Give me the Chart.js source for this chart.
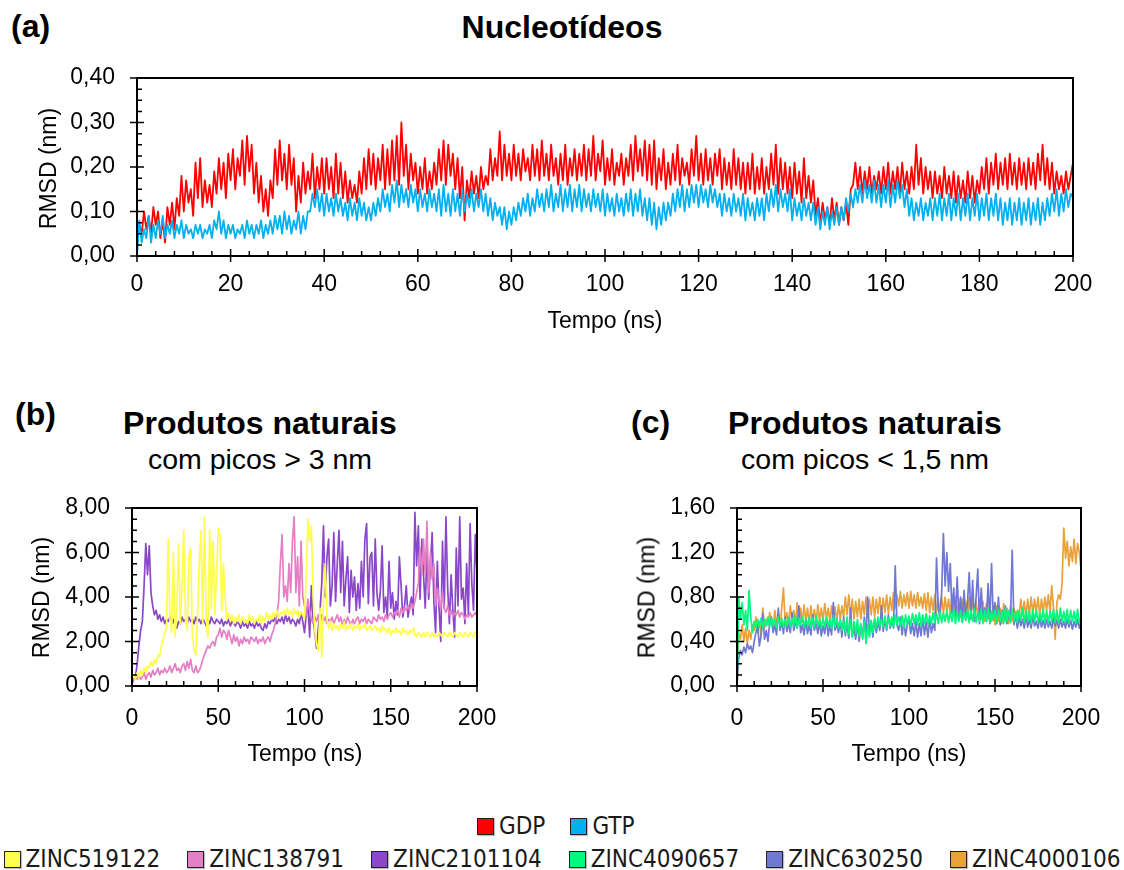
<!DOCTYPE html>
<html><head><meta charset="utf-8">
<script src="https://cdn.jsdelivr.net/npm/chart.js@4.4.1/dist/chart.umd.min.js"></script>
<style>
html,body{margin:0;padding:0;background:#fff;}
body{width:1124px;height:870px;position:relative;overflow:hidden;font-family:'Liberation Sans',Arial,sans-serif;color:#000;}
canvas{position:absolute;}
.t{position:absolute;white-space:nowrap;line-height:1;}
.lg{position:absolute;display:flex;align-items:center;font-family:'DejaVu Sans Condensed','DejaVu Sans',sans-serif;font-stretch:condensed;font-size:24px;color:#1a1a1a;line-height:1;}
.lg .it{display:flex;align-items:center;}
.lg .sw{width:15px;height:15px;border:1.5px solid #222;margin-right:5px;box-shadow:1px 1px 1px rgba(0,0,0,0.25);}
</style></head><body>
<canvas id="ca" width="1124" height="250" style="left:0;top:60px"></canvas>
<canvas id="cb" width="500" height="260" style="left:0;top:490px"></canvas>
<canvas id="cc" width="524" height="260" style="left:600px;top:490px"></canvas>
<div class="lg" id="leg1" style="left:477px;top:814px;gap:25px"></div>
<div class="lg" id="leg2" style="left:0;width:1124px;justify-content:center;top:847px;gap:27px"></div>
<script>
// ---------- DATA ----------
// (a) Nucleotídeos, one value every 0.5 ns from 0 to 200
const tStartA = 0, tStepA = 0.5;
const GDP = [
0.03,0.07,0.05,0.10,0.06,0.09,0.05,0.11,0.07,0.10, 0.04,0.08,0.03,0.11,0.07,0.12,0.06,0.13,0.09,0.18,
0.10,0.17,0.12,0.15,0.09,0.21,0.13,0.22,0.11,0.17, 0.12,0.16,0.11,0.19,0.14,0.22,0.15,0.21,0.13,0.23,
0.17,0.24,0.15,0.22,0.18,0.26,0.16,0.27,0.19,0.25, 0.14,0.21,0.12,0.18,0.10,0.15,0.09,0.17,0.13,0.24,
0.16,0.26,0.17,0.23,0.15,0.25,0.16,0.22,0.10,0.18, 0.12,0.21,0.14,0.19,0.15,0.23,0.13,0.20,0.15,0.22,
0.14,0.22,0.15,0.20,0.13,0.23,0.14,0.21,0.13,0.19, 0.12,0.17,0.13,0.16,0.12,0.19,0.14,0.22,0.15,0.24,
0.16,0.23,0.15,0.22,0.17,0.25,0.15,0.24,0.16,0.26, 0.17,0.27,0.16,0.30,0.18,0.25,0.15,0.23,0.17,0.21,
0.14,0.20,0.15,0.22,0.14,0.19,0.15,0.21,0.16,0.24, 0.17,0.26,0.16,0.25,0.18,0.23,0.15,0.22,0.13,0.20,
0.08,0.17,0.13,0.19,0.14,0.18,0.13,0.20,0.15,0.18, 0.16,0.24,0.17,0.22,0.18,0.28,0.17,0.25,0.18,0.23,
0.17,0.25,0.18,0.23,0.17,0.24,0.19,0.22,0.17,0.25, 0.18,0.24,0.17,0.26,0.18,0.23,0.17,0.25,0.18,0.22,
0.16,0.23,0.17,0.25,0.16,0.22,0.18,0.24,0.17,0.23, 0.18,0.25,0.17,0.24,0.18,0.27,0.17,0.23,0.19,0.26,
0.16,0.22,0.17,0.24,0.16,0.21,0.18,0.23,0.16,0.22, 0.18,0.25,0.17,0.27,0.19,0.24,0.18,0.26,0.17,0.25,
0.16,0.26,0.15,0.22,0.17,0.24,0.15,0.21,0.16,0.23, 0.17,0.25,0.16,0.22,0.18,0.21,0.16,0.24,0.18,0.27,
0.17,0.23,0.16,0.24,0.17,0.22,0.16,0.23,0.18,0.24, 0.15,0.22,0.16,0.21,0.15,0.24,0.16,0.22,0.15,0.21,
0.14,0.21,0.15,0.23,0.14,0.20,0.15,0.22,0.14,0.20, 0.15,0.23,0.16,0.25,0.14,0.22,0.15,0.21,0.14,0.20,
0.13,0.21,0.14,0.19,0.12,0.22,0.13,0.18,0.12,0.17, 0.09,0.13,0.07,0.12,0.08,0.11,0.07,0.13,0.08,0.12,
0.07,0.11,0.08,0.12,0.07,0.15,0.16,0.21,0.15,0.20, 0.14,0.19,0.15,0.20,0.14,0.18,0.15,0.19,0.14,0.20,
0.15,0.21,0.14,0.19,0.15,0.20,0.14,0.21,0.15,0.19, 0.14,0.20,0.15,0.25,0.16,0.22,0.14,0.20,0.15,0.19,
0.13,0.19,0.14,0.18,0.13,0.20,0.14,0.18,0.13,0.19, 0.12,0.18,0.13,0.17,0.12,0.19,0.13,0.18,0.12,0.17,
0.14,0.20,0.15,0.22,0.14,0.21,0.16,0.23,0.15,0.21, 0.16,0.22,0.15,0.23,0.16,0.21,0.15,0.22,0.16,0.21,
0.15,0.22,0.16,0.21,0.15,0.23,0.17,0.25,0.16,0.22, 0.15,0.21,0.14,0.19,0.15,0.18,0.14,0.19,0.15,0.18,
0.21];
const GTP = [
0.00,0.08,0.03,0.06,0.04,0.09,0.03,0.07,0.04,0.08, 0.05,0.09,0.04,0.07,0.05,0.08,0.04,0.07,0.05,0.08,
0.04,0.07,0.05,0.06,0.04,0.07,0.05,0.07,0.04,0.06, 0.05,0.07,0.04,0.08,0.06,0.10,0.05,0.08,0.04,0.07,
0.05,0.07,0.04,0.06,0.05,0.07,0.04,0.08,0.05,0.07, 0.04,0.07,0.05,0.08,0.04,0.07,0.05,0.08,0.05,0.09,
0.06,0.09,0.05,0.10,0.06,0.09,0.05,0.08,0.06,0.10, 0.05,0.09,0.06,0.10,0.10,0.14,0.11,0.15,0.10,0.14,
0.09,0.14,0.10,0.13,0.09,0.14,0.10,0.13,0.09,0.12, 0.08,0.13,0.09,0.12,0.08,0.13,0.09,0.12,0.08,0.11,
0.08,0.12,0.09,0.13,0.10,0.15,0.11,0.14,0.10,0.16, 0.12,0.17,0.11,0.16,0.12,0.15,0.11,0.16,0.12,0.15,
0.10,0.15,0.11,0.14,0.10,0.15,0.11,0.14,0.10,0.15, 0.09,0.16,0.10,0.14,0.09,0.15,0.10,0.14,0.09,0.15,
0.10,0.14,0.11,0.15,0.10,0.14,0.11,0.15,0.10,0.14, 0.09,0.13,0.08,0.12,0.09,0.11,0.07,0.11,0.06,0.10,
0.07,0.11,0.08,0.12,0.09,0.13,0.10,0.14,0.09,0.13, 0.10,0.15,0.11,0.14,0.10,0.15,0.11,0.16,0.10,0.14,
0.11,0.16,0.10,0.15,0.11,0.16,0.10,0.15,0.11,0.16, 0.10,0.15,0.11,0.14,0.10,0.15,0.11,0.14,0.10,0.15,
0.09,0.14,0.10,0.13,0.09,0.14,0.10,0.13,0.09,0.14, 0.10,0.15,0.09,0.14,0.10,0.15,0.09,0.13,0.08,0.13,
0.07,0.12,0.06,0.11,0.07,0.12,0.08,0.12,0.09,0.14, 0.10,0.15,0.11,0.16,0.10,0.15,0.11,0.16,0.12,0.16,
0.11,0.16,0.12,0.15,0.11,0.16,0.12,0.15,0.11,0.14, 0.09,0.14,0.10,0.13,0.09,0.14,0.10,0.13,0.09,0.14,
0.08,0.13,0.09,0.12,0.08,0.13,0.09,0.13,0.08,0.14, 0.10,0.15,0.11,0.16,0.10,0.15,0.11,0.14,0.10,0.15,
0.08,0.13,0.09,0.12,0.08,0.13,0.09,0.12,0.08,0.12, 0.07,0.11,0.06,0.10,0.07,0.11,0.06,0.10,0.07,0.11,
0.07,0.11,0.08,0.13,0.10,0.14,0.11,0.15,0.12,0.16, 0.12,0.17,0.13,0.16,0.12,0.17,0.12,0.16,0.11,0.16,
0.12,0.17,0.11,0.16,0.12,0.17,0.13,0.16,0.11,0.15, 0.09,0.13,0.08,0.12,0.09,0.13,0.08,0.12,0.09,0.13,
0.08,0.13,0.09,0.14,0.08,0.13,0.09,0.14,0.08,0.13, 0.09,0.14,0.08,0.13,0.09,0.14,0.08,0.13,0.09,0.14,
0.08,0.13,0.09,0.14,0.08,0.13,0.09,0.14,0.08,0.13, 0.07,0.12,0.08,0.13,0.07,0.12,0.08,0.13,0.07,0.12,
0.08,0.13,0.07,0.12,0.08,0.13,0.07,0.12,0.08,0.13, 0.09,0.14,0.10,0.15,0.09,0.14,0.10,0.15,0.11,0.14,
0.13];

// (b) and (c) Produtos naturais, one value per ns from 0 to 200
const tStartBC = 0, tStepBC = 1;
const ZINC519122 = [
0.3,0.5,0.3,0.6,0.4,0.7,0.5,0.8,0.6,0.9, 0.8,1.1,0.9,1.2,1.0,1.4,1.3,1.8,2.0,2.4,
2.6,6.6,3.0,2.4,6.0,2.2,3.5,6.4,2.8,4.5, 7.0,3.0,2.5,5.8,6.2,2.2,1.6,1.4,3.2,5.5,
7.0,2.8,7.6,3.0,2.2,7.0,3.5,6.5,3.2,5.0, 7.1,6.8,3.4,5.5,4.0,3.0,3.3,2.9,3.2,2.8,
3.1,2.9,3.2,2.8,3.1,2.9,3.0,2.8,3.2,2.9, 3.1,2.8,3.0,2.9,3.2,2.8,3.1,2.9,3.3,3.0,
3.2,3.0,3.3,3.1,3.4,3.1,3.3,3.2,3.4,3.2, 3.5,3.2,3.4,3.1,3.5,3.2,3.4,3.1,3.3,3.2,
3.0,5.0,7.5,6.5,7.2,4.0,2.5,1.9,1.6,3.5, 1.3,4.0,5.5,3.0,2.6,2.9,2.5,2.8,2.6,2.7,
2.5,2.8,2.6,2.9,2.5,2.7,2.6,2.8,2.5,2.7, 2.6,2.8,2.5,2.7,2.6,2.8,2.5,2.6,2.7,2.5,
2.6,2.7,2.5,2.6,2.4,2.7,2.5,2.6,2.4,2.6, 2.3,2.5,2.4,2.6,2.4,2.5,2.3,2.6,2.4,2.5,
2.3,2.5,2.4,2.6,2.3,2.2,2.4,2.3,2.2,2.4, 2.2,2.4,2.3,2.2,2.4,2.2,2.3,2.2,2.4,2.3,
2.2,2.4,2.3,2.2,2.4,2.3,2.2,2.4,2.3,2.2, 2.4,2.3,2.2,2.4,2.3,2.2,2.4,2.3,2.2,2.4,
2.5];
const ZINC138791 = [
0.2,0.3,0.4,0.3,0.5,0.3,0.4,0.6,0.3,0.5, 0.6,0.4,0.7,0.5,0.6,0.8,0.5,0.7,0.6,0.8,
0.6,0.7,0.9,0.6,0.8,1.0,0.7,0.8,0.6,0.9, 1.0,0.7,1.1,0.8,1.2,0.7,0.6,0.9,0.6,0.7,
0.9,1.2,1.4,1.6,1.8,1.7,1.9,2.0,1.8,2.2, 2.3,2.6,2.2,2.5,2.4,2.1,2.5,2.2,1.9,2.3,
2.0,2.2,1.8,2.1,1.9,2.2,2.0,2.1,1.9,2.2, 2.1,2.0,2.2,1.9,2.1,2.0,2.2,1.9,2.1,2.2,
2.0,2.3,2.5,2.8,3.2,3.8,5.5,6.8,4.0,4.5, 3.8,5.5,4.2,6.5,7.6,4.2,5.8,3.6,6.5,4.0,
3.6,3.2,3.9,3.4,3.0,2.8,3.1,2.9,3.2,2.8, 3.2,2.9,3.1,2.8,3.0,2.9,3.1,2.8,3.0,3.2,
2.9,3.1,2.7,3.0,2.8,3.1,2.9,2.7,3.0,2.8, 3.0,3.1,2.8,3.0,2.9,3.1,2.8,3.0,2.9,2.8,
3.1,3.0,2.9,3.2,3.0,3.1,2.9,3.2,3.0,3.2, 3.3,3.1,3.3,3.2,3.4,3.1,3.5,3.3,3.5,3.4,
3.6,3.4,3.7,3.5,3.8,4.2,4.6,6.2,5.0,6.6, 5.0,7.4,4.2,6.0,4.8,5.5,3.6,4.4,3.8,3.5,
4.2,3.5,3.3,3.6,3.2,3.4,3.1,3.3,3.2,3.4, 3.1,3.3,3.2,3.0,3.2,3.1,3.3,3.1,3.2,3.3,
3.1];
const ZINC2101104 = [
0.1,0.3,0.4,1.0,1.8,2.5,2.9,4.5,6.4,5.0, 6.3,4.2,3.6,3.2,3.4,3.0,3.2,2.9,3.1,2.8,
3.0,2.9,3.1,2.8,3.0,2.7,2.6,2.9,2.8,3.1, 2.9,3.0,2.8,3.1,2.9,3.0,2.8,3.1,2.9,3.0,
2.8,3.0,2.9,2.7,3.0,2.8,3.1,2.9,2.8,3.0, 2.9,2.8,3.0,2.7,2.9,2.8,3.0,2.7,2.9,2.8,
2.7,2.9,2.8,2.6,2.9,2.7,2.8,2.6,2.9,2.7, 2.8,2.6,2.9,2.7,2.8,2.6,2.5,2.8,2.6,2.9,
2.8,3.0,2.9,3.1,2.8,3.0,2.9,3.1,2.8,3.2, 2.9,3.1,2.8,3.0,2.9,2.7,3.0,2.8,3.3,2.9,
2.4,3.2,3.6,2.2,4.5,3.0,2.4,1.7,2.6,3.4, 4.6,7.2,4.0,5.8,6.6,3.6,4.5,6.9,3.8,5.5,
7.0,4.2,6.5,3.6,4.8,5.8,3.3,5.2,4.0,4.9, 3.4,4.6,3.5,5.6,4.0,6.6,7.3,3.7,5.8,6.0,
3.6,6.6,4.2,3.4,4.3,6.3,3.3,4.0,3.1,5.6, 3.5,4.2,3.0,3.8,3.2,5.8,4.5,3.1,3.6,4.5,
3.1,3.6,4.0,3.2,7.8,5.4,7.2,3.9,6.6,5.0, 3.5,6.2,3.9,5.4,6.9,3.8,2.4,5.6,3.5,2.0,
6.5,3.5,7.6,4.4,2.8,5.0,3.4,2.2,6.2,3.6, 7.6,3.9,4.4,2.8,5.5,3.2,7.3,4.6,3.4,6.8,
5.0];
const ZINC4090657 = [
0.00,0.80,0.60,0.75,0.55,0.68,0.50,0.86,0.62,0.48, 0.58,0.52,0.60,0.53,0.61,0.52,0.60,0.54,0.62,0.53,
0.61,0.54,0.60,0.52,0.62,0.54,0.61,0.53,0.60,0.54, 0.62,0.53,0.61,0.54,0.63,0.52,0.61,0.55,0.62,0.53,
0.60,0.54,0.62,0.52,0.61,0.53,0.63,0.54,0.60,0.52, 0.61,0.53,0.62,0.54,0.60,0.52,0.63,0.53,0.61,0.52,
0.60,0.50,0.59,0.48,0.62,0.46,0.60,0.44,0.58,0.47, 0.60,0.45,0.56,0.42,0.58,0.38,0.55,0.44,0.59,0.48,
0.61,0.52,0.62,0.54,0.60,0.53,0.63,0.52,0.61,0.54, 0.62,0.53,0.64,0.55,0.62,0.54,0.63,0.52,0.64,0.55,
0.63,0.54,0.65,0.56,0.64,0.55,0.66,0.54,0.64,0.56, 0.65,0.55,0.63,0.56,0.66,0.57,0.65,0.56,0.67,0.57,
0.66,0.58,0.68,0.57,0.66,0.58,0.69,0.56,0.67,0.58, 0.68,0.57,0.66,0.59,0.69,0.57,0.68,0.58,0.70,0.57,
0.67,0.58,0.69,0.56,0.68,0.58,0.70,0.57,0.67,0.59, 0.68,0.57,0.69,0.58,0.67,0.56,0.70,0.58,0.68,0.57,
0.69,0.58,0.67,0.57,0.68,0.59,0.70,0.57,0.68,0.58, 0.67,0.56,0.69,0.58,0.68,0.57,0.66,0.58,0.69,0.57,
0.68,0.56,0.67,0.58,0.69,0.57,0.68,0.56,0.70,0.58, 0.67,0.57,0.69,0.56,0.68,0.58,0.67,0.56,0.69,0.57,
0.62];
const ZINC630250 = [
0.00,0.25,0.32,0.28,0.35,0.30,0.38,0.33,0.36,0.30, 0.40,0.48,0.55,0.36,0.45,0.65,0.42,0.50,0.40,0.58,
0.62,0.48,0.55,0.46,0.70,0.50,0.58,0.47,0.62,0.49, 0.56,0.48,0.66,0.50,0.58,0.52,0.72,0.48,0.55,0.46,
0.60,0.47,0.55,0.46,0.64,0.50,0.56,0.47,0.58,0.45, 0.54,0.47,0.60,0.45,0.55,0.46,0.75,0.50,0.56,0.48,
0.58,0.44,0.62,0.45,0.56,0.43,0.70,0.45,0.52,0.42, 0.56,0.40,0.55,0.44,0.62,0.45,0.80,0.46,0.58,0.44,
0.60,0.48,0.58,0.50,0.72,0.49,0.60,0.50,0.64,0.52, 0.58,0.52,1.08,0.55,0.50,0.62,0.46,0.58,0.45,0.55,
0.60,0.47,0.56,0.45,0.58,0.44,0.56,0.45,0.62,0.46, 0.58,0.44,0.60,0.48,0.56,0.50,1.15,0.70,0.62,0.85,
1.37,0.90,1.20,0.85,1.10,0.65,0.88,0.60,0.98,0.62, 0.80,0.58,0.86,0.60,0.75,1.02,0.60,0.95,0.58,0.80,
1.05,0.56,0.88,0.60,0.70,0.58,0.92,0.56,1.10,0.60, 0.75,0.56,0.80,0.55,0.68,0.58,0.72,0.56,0.66,0.60,
1.22,0.55,0.64,0.52,0.62,0.54,0.60,0.52,0.63,0.53, 0.60,0.52,0.62,0.54,0.58,0.52,0.61,0.53,0.59,0.52,
0.60,0.53,0.58,0.52,0.61,0.54,0.59,0.52,0.60,0.53, 0.58,0.52,0.60,0.53,0.59,0.51,0.58,0.53,0.60,0.52,
0.58];
const ZINC4000106 = [
0.05,0.48,0.42,0.55,0.40,0.52,0.38,0.50,0.42,0.55, 0.50,0.62,0.48,0.58,0.45,0.70,0.52,0.60,0.55,0.66,
0.60,0.52,0.68,0.55,0.65,0.53,0.70,0.88,0.58,0.66, 0.56,0.72,0.58,0.68,0.56,0.75,0.58,0.70,0.57,0.73,
0.58,0.70,0.56,0.72,0.58,0.69,0.57,0.73,0.59,0.70, 0.58,0.74,0.60,0.70,0.58,0.72,0.60,0.71,0.58,0.73,
0.60,0.72,0.62,0.80,0.64,0.82,0.62,0.78,0.60,0.76, 0.62,0.78,0.60,0.76,0.64,0.80,0.62,0.78,0.64,0.80,
0.62,0.78,0.65,0.80,0.64,0.79,0.66,0.82,0.65,0.80, 0.68,0.84,0.70,0.82,0.72,0.85,0.70,0.82,0.72,0.84,
0.70,0.85,0.72,0.82,0.70,0.84,0.72,0.80,0.70,0.83, 0.68,0.84,0.66,0.80,0.68,0.82,0.66,0.78,0.68,0.80,
0.65,0.80,0.66,0.78,0.65,0.82,0.66,0.80,0.64,0.78, 0.62,0.78,0.64,0.76,0.62,0.80,0.63,0.78,0.60,0.76,
0.62,0.78,0.60,0.76,0.58,0.74,0.60,0.72,0.58,0.70, 0.55,0.72,0.58,0.70,0.56,0.74,0.58,0.70,0.56,0.72,
0.58,0.70,0.60,0.68,0.62,0.78,0.64,0.76,0.62,0.78, 0.64,0.80,0.65,0.78,0.66,0.80,0.64,0.78,0.66,0.80,
0.68,0.82,0.66,0.90,0.70,0.42,0.75,0.82,0.78,0.92, 1.42,1.15,1.30,1.08,1.25,1.12,1.32,1.10,1.28,1.20,
1.05];

const xTicksA = [0,200,20], yTicksA = [0,0.4,0.1];
const xTicksBC = [0,200,50], yTicksB = [0,8,2], yTicksC = [0,1.6,0.4];

// ---------- helpers ----------
const FONT = "'Liberation Sans', Arial, sans-serif";
const pts = (vals, t0, dt) => vals.map((v, i) => ({x: t0 + i * dt, y: v}));
const comma = v => Number(v).toFixed(2).replace('.', ',');

const frameTicks = {
  id: 'frameTicks',
  afterDatasetsDraw(chart, args, o) {
    const {ctx, chartArea: a, scales: {x, y}} = chart;
    ctx.save();
    ctx.strokeStyle = '#000';
    ctx.lineWidth = 2;
    ctx.strokeRect(a.left, a.top, a.right - a.left, a.bottom - a.top);
    ctx.lineWidth = 1.5;
    const each = (min, max, step, fn) => { const n = Math.round((max - min) / step); for (let i = 0; i <= n; i++) fn(min + i * step); };
    ctx.beginPath();
    each(x.min, x.max, o.xMinor, v => { const p = x.getPixelForValue(v); ctx.moveTo(p, a.bottom); ctx.lineTo(p, a.bottom - 5); });
    each(x.min, x.max, o.xMajor, v => { const p = x.getPixelForValue(v); ctx.moveTo(p, a.bottom + 6); ctx.lineTo(p, a.bottom - 7); });
    each(y.min, y.max, o.yMinor, v => { const p = y.getPixelForValue(v); ctx.moveTo(a.left, p); ctx.lineTo(a.left + 5, p); });
    each(y.min, y.max, o.yMajor, v => { const p = y.getPixelForValue(v); ctx.moveTo(a.left - 7, p); ctx.lineTo(a.left + 7, p); });
    ctx.stroke();
    ctx.restore();
  }
};

function makeChart(id, datasets, c) {
  return new Chart(document.getElementById(id), {
    type: 'line',
    data: {datasets},
    plugins: [frameTicks],
    options: {
      responsive: false, animation: false, devicePixelRatio: 1,
      layout: {padding: {left: 0, top: c.padTop, right: c.padRight, bottom: 0}},
      elements: {point: {radius: 0}, line: {tension: 0, borderJoinStyle: 'round'}},
      plugins: {legend: {display: false}, tooltip: {enabled: false},
        frameTicks: {xMajor: c.xt[2], xMinor: c.xMinor, yMajor: c.yt[2], yMinor: c.yMinor}},
      scales: {
        x: {type: 'linear', min: c.xt[0], max: c.xt[1],
          ticks: {stepSize: c.xt[2], autoSkip: false, maxRotation: 0, color: '#000', padding: c.xPad,
            font: {family: FONT, size: 23}, callback: v => String(v)},
          grid: {display: false, drawTicks: false}, border: {display: false},
          afterFit: s => { s.height = c.xH; s.paddingLeft = 0; s.paddingRight = 0; }},
        y: {type: 'linear', min: c.yt[0], max: c.yt[1],
          ticks: {stepSize: c.yt[2], color: '#000', padding: 22, font: {family: FONT, size: 23}, callback: v => comma(v)},
          grid: {display: false, drawTicks: false}, border: {display: false},
          afterFit: s => { s.width = c.yW; s.paddingTop = 0; s.paddingBottom = 0; }}
      }
    }
  });
}
const ds = (label, vals, t0, dt, color, order, w) => ({label, data: pts(vals, t0, dt), borderColor: color, backgroundColor: color, borderWidth: w, order, fill: false});

makeChart('ca', [
  ds('GDP', GDP, tStartA, tStepA, '#FF0000', 2, 1.8),
  ds('GTP', GTP, tStartA, tStepA, '#00B0F0', 1, 1.8)
], {padTop: 18, padRight: 51, xH: 54, yW: 137, xPad: 15, xt: xTicksA, yt: yTicksA, xMinor: 4, yMinor: 0.025});

makeChart('cb', [
  ds('ZINC2101104', ZINC2101104, tStartBC, tStepBC, '#8B47C9', 3, 1.7),
  ds('ZINC138791', ZINC138791, tStartBC, tStepBC, '#E57EC4', 2, 1.7),
  ds('ZINC519122', ZINC519122, tStartBC, tStepBC, '#FFFF4D', 1, 1.7)
], {padTop: 18, padRight: 23, xH: 64, yW: 132, xPad: 19, xt: xTicksBC, yt: yTicksB, xMinor: 10, yMinor: 0.5});

makeChart('cc', [
  ds('ZINC4000106', ZINC4000106, tStartBC, tStepBC, '#E9A23B', 3, 1.7),
  ds('ZINC630250', ZINC630250, tStartBC, tStepBC, '#7178D3', 2, 1.7),
  ds('ZINC4090657', ZINC4090657, tStartBC, tStepBC, '#00FA7D', 1, 1.7)
], {padTop: 18, padRight: 43, xH: 64, yW: 137, xPad: 19, xt: xTicksBC, yt: yTicksC, xMinor: 10, yMinor: 0.1});

// ---------- texts ----------
function text(str, x, baseline, size, bold, align) {
  const d = document.createElement('div');
  d.className = 't';
  d.textContent = str;
  d.style.fontSize = size + 'px';
  d.style.fontWeight = bold ? 'bold' : 'normal';
  d.style.top = (baseline - 0.8465 * size) + 'px';
  d.style.left = x + 'px';
  if (align === 'center') d.style.transform = 'translateX(-50%)';
  document.body.appendChild(d);
}
function vtext(str, baselineX, cy, size) {
  const d = document.createElement('div');
  d.className = 't';
  d.textContent = str;
  d.style.fontSize = size + 'px';
  d.style.width = '300px';
  d.style.textAlign = 'center';
  const cx = baselineX - 0.3465 * size;
  d.style.left = (cx - 150) + 'px';
  d.style.top = (cy - size / 2) + 'px';
  d.style.transform = 'rotate(-90deg)';
  document.body.appendChild(d);
}
text('(a)', 11, 37, 32, true);
text('Nucleotídeos', 562, 38, 32, true, 'center');
text('(b)', 15, 425, 32, true);
text('Produtos naturais', 260, 434, 32, true, 'center');
text('com picos > 3 nm', 260, 469, 28.5, false, 'center');
text('(c)', 631, 433, 32, true);
text('Produtos naturais', 865, 434, 32, true, 'center');
text('com picos < 1,5 nm', 865, 469, 28.5, false, 'center');
text('Tempo (ns)', 605, 328, 23, false, 'center');
text('Tempo (ns)', 305, 761, 23, false, 'center');
text('Tempo (ns)', 909, 761, 23, false, 'center');
vtext('RMSD (nm)', 56, 168, 23);
vtext('RMSD (nm)', 49, 597, 23);
vtext('RMSD (nm)', 655, 597, 23);

// ---------- legend ----------
const legend1 = [['GDP', '#FF0000'], ['GTP', '#00B0F0']];
const legend2 = [['ZINC519122', '#FFFF4D'], ['ZINC138791', '#E57EC4'], ['ZINC2101104', '#8B47C9'],
  ['ZINC4090657', '#00FA7D'], ['ZINC630250', '#7178D3'], ['ZINC4000106', '#E9A23B']];
function fillLegend(id, items) {
  const el = document.getElementById(id);
  items.forEach(([name, col]) => {
    const it = document.createElement('div'); it.className = 'it';
    const sw = document.createElement('div'); sw.className = 'sw'; sw.style.background = col;
    const tx = document.createElement('span'); tx.textContent = name;
    it.appendChild(sw); it.appendChild(tx); el.appendChild(it);
  });
}
fillLegend('leg1', legend1);
fillLegend('leg2', legend2);
</script>
</body></html>
